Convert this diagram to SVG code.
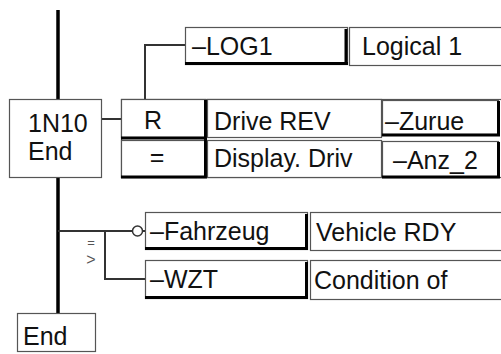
<svg xmlns="http://www.w3.org/2000/svg" width="501" height="354" viewBox="0 0 501 354">
<style>
.cell{fill:#fff;stroke:#555;stroke-width:1.2}
.sh{stroke:#000;stroke-width:3;fill:none}
.wire{stroke:#333;stroke-width:2;fill:none}
.bus{stroke:#000;stroke-width:3.5;fill:none}
.t{font-family:"Liberation Sans",Arial,sans-serif;font-size:25px;fill:#111}
.s{font-family:"Liberation Sans",Arial,sans-serif;fill:#555}
</style>
<rect width="501" height="354" fill="#fff"/>
<g id="connectors">
<line class="bus" x1="58" y1="10" x2="58" y2="99"/>
<line class="bus" x1="58" y1="178" x2="58" y2="313"/>
<line class="wire" x1="102" y1="119" x2="121" y2="119"/>
<polyline class="wire" points="145,99 145,45 185,45"/>
<line class="wire" x1="58" y1="231" x2="132.5" y2="231"/>
<circle cx="137.5" cy="231" r="5" fill="#fff" stroke="#333" stroke-width="1.5"/>
<line class="wire" x1="142.5" y1="231" x2="145" y2="231"/>
<polyline class="wire" points="105,231 105,279 145,279"/>
<text class="s" x="91" y="247" font-size="13" text-anchor="middle">=</text>
<text class="s" x="91" y="265" font-size="16" text-anchor="middle">&gt;</text>
</g>
<g id="n1N10">
<rect class="cell" x="9.5" y="99.5" width="92" height="78" stroke-width="1.5"/>
<text class="t" x="28" y="132" font-size="24">1N10</text>
<text class="t" x="28" y="160" font-size="24">End</text>
</g>
<g id="log1">
<rect class="cell" x="185.5" y="27.5" width="162" height="37"/>
<line class="sh" x1="185" y1="63.5" x2="348" y2="63.5"/>
<line class="sh" x1="346" y1="29" x2="346" y2="65"/>
<text class="t" x="192" y="55">–LOG1</text>
<rect class="cell" x="349.5" y="27.5" width="153" height="38"/>
<text class="t" x="362" y="55">Logical 1</text>
</g>
<g id="table">
<rect class="cell" x="121.5" y="99.5" width="381" height="78"/>
<rect class="cell" x="121.5" y="99.5" width="84" height="38"/>
<line class="sh" x1="121" y1="138" x2="207" y2="138" stroke-width="4"/>
<line class="sh" x1="205.5" y1="100" x2="205.5" y2="140"/>
<text class="t" x="153" y="129" text-anchor="middle">R</text>
<rect class="cell" x="207.5" y="99.5" width="174" height="38"/>
<text class="t" x="214" y="130">Drive REV</text>
<rect class="cell" x="382.5" y="100.5" width="116" height="34"/>
<line class="sh" x1="382" y1="135" x2="500" y2="135" stroke-width="2"/>
<line class="sh" x1="498.5" y1="101" x2="498.5" y2="136" stroke-width="2"/>
<text class="t" x="385" y="130">–Zurue</text>
<rect class="cell" x="121.5" y="140.5" width="84" height="37"/>
<line class="sh" x1="121" y1="177" x2="207" y2="177"/>
<line class="sh" x1="205.5" y1="140" x2="205.5" y2="178"/>
<text class="t" x="157" y="166" font-size="20" text-anchor="middle">=</text>
<rect class="cell" x="207.5" y="140.5" width="174" height="37"/>
<text class="t" x="214" y="167">Display. Driv</text>
<rect class="cell" x="382.5" y="141.5" width="116" height="36"/>
<line class="sh" x1="382" y1="177" x2="500" y2="177" stroke-width="2"/>
<line class="sh" x1="498.5" y1="142" x2="498.5" y2="178" stroke-width="2"/>
<text class="t" x="393" y="169">–Anz_2</text>
</g>
<g id="fahrzeug">
<rect class="cell" x="145.5" y="212.5" width="162" height="37"/>
<line class="sh" x1="145" y1="248.5" x2="308" y2="248.5"/>
<line class="sh" x1="306.5" y1="214" x2="306.5" y2="250"/>
<text class="t" x="150" y="240">–Fahrzeug</text>
<rect class="cell" x="310.5" y="212.5" width="192" height="38"/>
<text class="t" x="316" y="241">Vehicle RDY</text>
</g>
<g id="wzt">
<rect class="cell" x="145.5" y="260.5" width="162" height="38"/>
<line class="sh" x1="145" y1="297.5" x2="308" y2="297.5"/>
<line class="sh" x1="306.5" y1="262" x2="306.5" y2="299"/>
<text class="t" x="150" y="288">–WZT</text>
<rect class="cell" x="310.5" y="260.5" width="192" height="39"/>
<text class="t" x="314" y="289">Condition of</text>
</g>
<g id="end">
<rect class="cell" x="17.5" y="313.5" width="78" height="38" stroke-width="1.5"/>
<text class="t" x="23" y="345">End</text>
</g>
</svg>
